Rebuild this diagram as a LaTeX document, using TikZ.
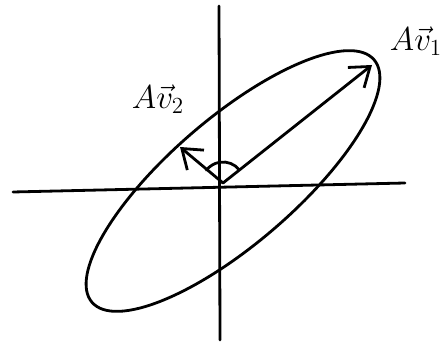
\documentclass[tikz,border=0pt]{standalone}
\usetikzlibrary{arrows.meta}
\newcommand{\biglab}[1]{\scalebox{1.6}{\huge$#1$}}
\begin{document}
\begin{tikzpicture}[x=1pt,y=1pt,
  pen/.style={line width=2.8pt, line cap=round, line join=round, black},
  vecarrow/.style={pen, -{Straight Barb[length=18pt,width=26pt,line width=2.8pt]}},
  lab/.style={inner sep=0pt}]
\useasboundingbox (0,0) rectangle (444,345);
% axes
\coordinate (xl) at (13,153);
\coordinate (xr) at (405,162);
\coordinate (yt) at (219,339);
\coordinate (yb) at (220,5);
\coordinate (O) at (223,162);
\draw[pen] (xl) -- (xr);
\draw[pen] (yt) -- (yb);
% ellipse
\coordinate (C) at (233,164);
\draw[pen, rotate around={40.7:(C)}] (C) ellipse [x radius=186, y radius=63];
% vectors
\coordinate (v1) at (372,280);
\coordinate (v2) at (180,198);
\draw[vecarrow] (O) -- (v1);
\draw[vecarrow] (O) -- (v2);
% right-angle mark
\draw[pen] ([shift={(38.6:21)}]O) arc[start angle=38.6, end angle=142.5, radius=21];
% labels
\node[lab] (l1) at (416,304) {\biglab{A\vec{v}_1}};
\node[lab] (l2) at (158,246) {\biglab{A\vec{v}_2}};
\end{tikzpicture}
\end{document}
